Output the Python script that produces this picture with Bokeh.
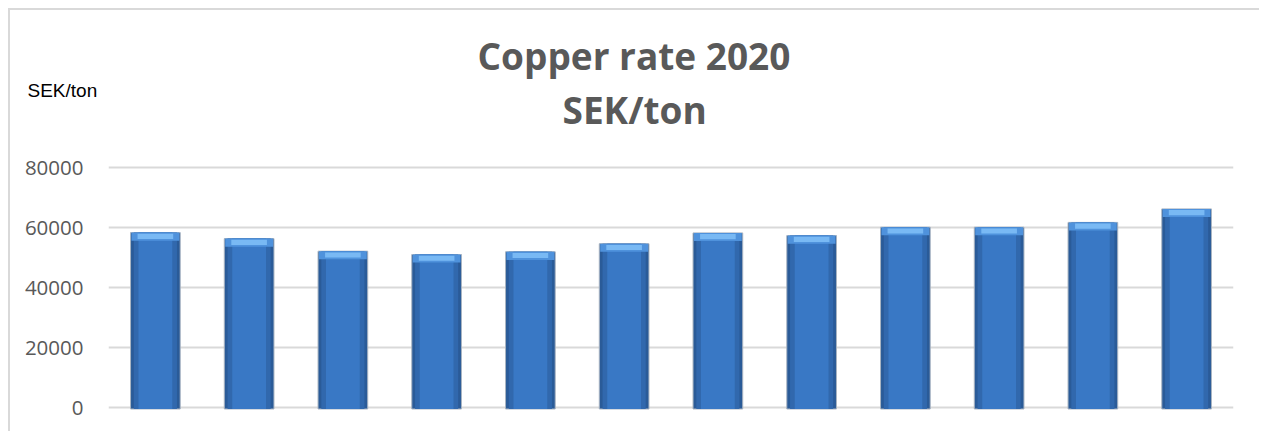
from bokeh.plotting import figure
from bokeh.models import ColumnDataSource, FactorRange, Range1d, SingleIntervalTicker, NumeralTickFormatter, Title
from bokeh.embed import file_html
from bokeh.resources import INLINE

months = ["Jan", "Feb", "Mar", "Apr", "May", "Jun", "Jul", "Aug", "Sep", "Oct", "Nov", "Dec"]
rate = [58300, 56300, 52100, 51000, 51900, 54600, 58200, 57300, 60100, 60100, 61700, 66200]
title_lines = ["Copper rate 2020", "SEK/ton"]
unit_label = "SEK/ton"

src = ColumnDataSource(dict(
    m=months,
    v=rate,
    bev_lo=[r - 2700 for r in rate],
    bev2_lo=[r - 2100 for r in rate],
    bev2_hi=[r - 400 for r in rate],
))

p = figure(width=1251, height=423, output_backend="svg", toolbar_location=None,
           x_range=FactorRange(*months, range_padding=0), y_range=Range1d(-1000, 81000),
           min_border_left=98, min_border_right=28, min_border_top=154, min_border_bottom=23)
p.styles = {"border-top": "2px solid #d9d9d9", "border-left": "2px solid #d9d9d9",
            "margin-left": "8px", "margin-top": "8px"}
p.outline_line_color = None
p.background_fill_color = "white"
p.border_fill_color = "white"

p.xaxis.visible = False
p.xgrid.grid_line_color = None
p.ygrid.grid_line_color = "#d9d9d9"
p.ygrid.grid_line_width = 2
p.yaxis.ticker = SingleIntervalTicker(interval=20000)
p.yaxis.formatter = NumeralTickFormatter(format="0")
p.yaxis.axis_line_color = None
p.yaxis.major_tick_line_color = None
p.yaxis.minor_tick_line_color = None
p.yaxis.major_label_standoff = 19
p.yaxis.major_label_text_font = "Open Sans"
p.yaxis.major_label_text_font_size = "20.5px"
p.yaxis.major_label_text_color = "#595959"

# bars (layered to imitate the shaded look)
p.vbar(x="m", top="v", bottom=-500, width=0.53, source=src, fill_color="#2a5b98",
       line_color="#a9b4c2", line_width=1)
p.vbar(x="m", top="v", bottom=-500, width=0.46, source=src, fill_color="#3168ad", line_color=None)
p.vbar(x="m", top="v", bottom=-500, width=0.36, source=src, fill_color="#3978c5", line_color=None)
p.vbar(x="m", top="v", bottom="bev_lo", width=0.51, source=src, fill_color="#4f92dc", line_color=None)
p.vbar(x="m", top="bev2_hi", bottom="bev2_lo", width=0.38, source=src, fill_color="#79b9f4", line_color=None)

# titles stacked above the frame (first added = nearest the frame)
p.add_layout(Title(text=" ", text_font_size="1px", standoff=43), "above")
p.add_layout(Title(text=title_lines[1], align="left", offset=454, standoff=-33,
                   text_font="Open Sans", text_font_style="bold", text_font_size="37px",
                   text_color="#595959"), "above")
p.add_layout(Title(text=unit_label, align="left", offset=-81, standoff=-5,
                   text_font="Liberation Sans", text_font_style="normal", text_font_size="19px",
                   text_color="#000000"), "above")
p.add_layout(Title(text=title_lines[0], align="left", offset=369, standoff=0,
                   text_font="Open Sans", text_font_style="bold", text_font_size="37px",
                   text_color="#595959"), "above")

open("out.html", "w").write(file_html(p, INLINE))
